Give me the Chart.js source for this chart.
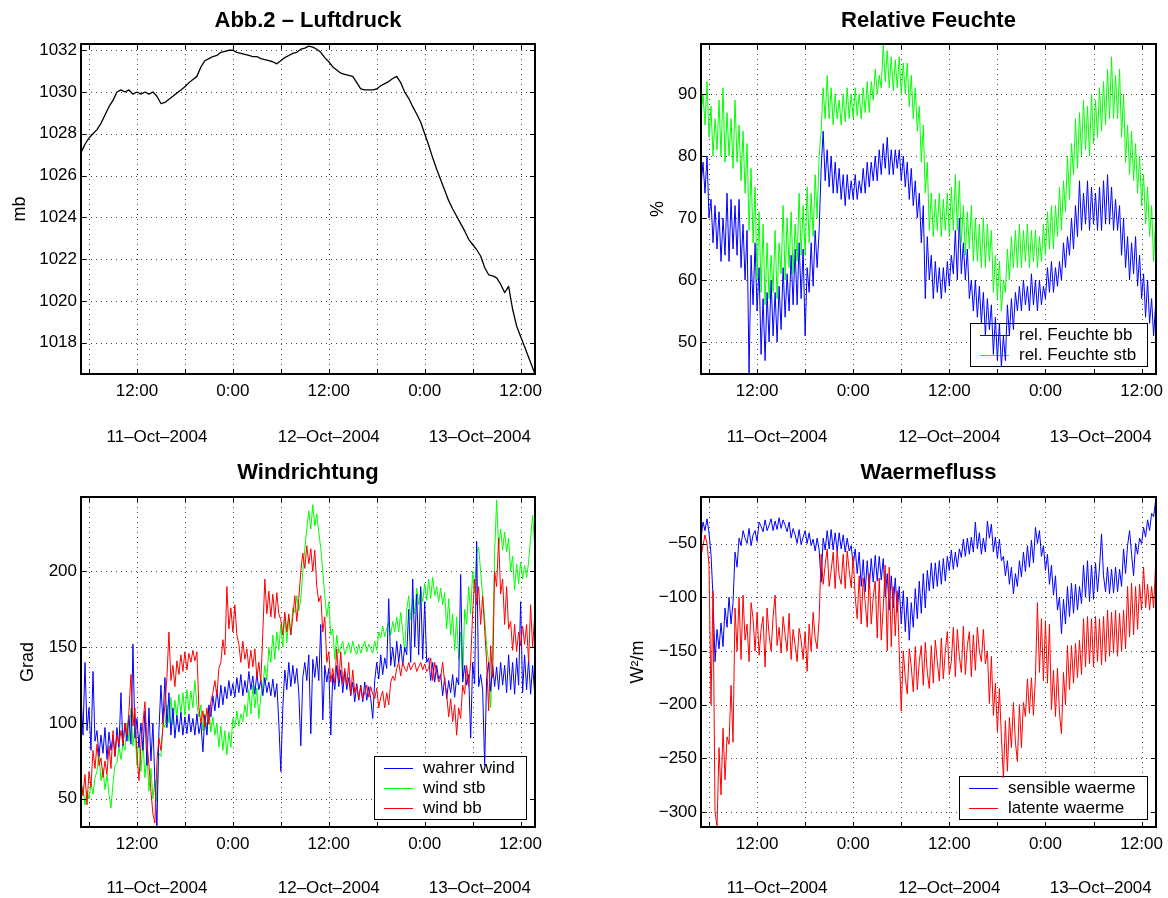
<!DOCTYPE html>
<html>
<head>
<meta charset="utf-8">
<title>Abb.2</title>
<script src="https://cdn.jsdelivr.net/npm/chart.js@4.4.1/dist/chart.umd.min.js"></script>
<style>
  html, body { margin: 0; padding: 0; background: #fff; }
  #fig { position: relative; width: 1168px; height: 898px; }
  #fig canvas { position: absolute; }
</style>
</head>
<body>
<div id="fig">
  <canvas id="cDruck" width="584" height="449" style="left:0;top:0"></canvas>
  <canvas id="cFeuchte" width="584" height="449" style="left:584px;top:0"></canvas>
  <canvas id="cWind" width="584" height="449" style="left:0;top:449px"></canvas>
  <canvas id="cWaerme" width="584" height="449" style="left:584px;top:449px"></canvas>
</div>
<script>
// Zeitachse in Stunden ab 11-Oct-2004 0:00
const T_START = 5;
const T_END = 61.8;
const DRUCK_STEP = 0.5;   // Luftdruck halbstuendlich
const MESS_STEP = 0.25;   // uebrige Messreihen viertelstuendlich

const X_TICKS = [6, 12, 18, 24, 30, 36, 42, 48, 54, 60];
const DAYS = ['11–Oct–2004', '12–Oct–2004', '13–Oct–2004'];

const DRUCK_TICKS = [1018, 1020, 1022, 1024, 1026, 1028, 1030, 1032];
const FEUCHTE_TICKS = [50, 60, 70, 80, 90];
const WIND_TICKS = [50, 100, 150, 200];
const WAERME_TICKS = [-300, -250, -200, -150, -100, -50];

// Luftdruck [mb], 5:00 bis 62:00
const LUFTDRUCK = [
  1027.1, 1027.5, 1027.8, 1028.0, 1028.2, 1028.5, 1028.9, 1029.3, 1029.6, 1030.0,
  1030.1, 1030.0, 1030.1, 1029.9, 1030.0, 1029.9, 1030.0, 1029.9, 1030.0, 1029.8,
  1029.45, 1029.5, 1029.65, 1029.8, 1029.95, 1030.1, 1030.25, 1030.45, 1030.6, 1030.75,
  1031.2, 1031.5, 1031.6, 1031.7, 1031.75, 1031.9, 1031.95, 1032.0, 1032.0, 1031.9,
  1031.85, 1031.8, 1031.75, 1031.7, 1031.7, 1031.6, 1031.55, 1031.5, 1031.45, 1031.35,
  1031.5, 1031.65, 1031.75, 1031.85, 1031.9, 1032.05, 1032.1, 1032.2, 1032.15, 1032.05,
  1031.9, 1031.65, 1031.45, 1031.2, 1031.05, 1030.9, 1030.85, 1030.8, 1030.75, 1030.45,
  1030.15, 1030.1, 1030.1, 1030.1, 1030.15, 1030.3, 1030.4, 1030.5, 1030.65, 1030.75,
  1030.45, 1030.0, 1029.7, 1029.3, 1028.95, 1028.55, 1028.0, 1027.45, 1026.85, 1026.3,
  1025.8, 1025.3, 1024.8, 1024.4, 1024.05, 1023.7, 1023.35, 1022.95, 1022.7, 1022.45,
  1022.15, 1021.6, 1021.25, 1021.2, 1021.1, 1020.8, 1020.4, 1020.7, 1019.6, 1018.8,
  1018.3, 1017.8, 1017.3, 1016.8, 1016.3
];

// relative Feuchte [%], eine Zeile = 5 Stunden
const FEUCHTE_BB = [
  75, 79, 74, 80, 70, 73, 66, 72, 65, 71, 63, 70, 64, 74, 63, 73, 65, 72, 64, 73,
  62, 69, 60, 68, 45, 64, 56, 66, 55, 62, 48, 57, 47, 58, 50, 60, 51, 58, 50, 59,
  52, 62, 54, 61, 55, 64, 56, 65, 56, 66, 57, 65, 51, 62, 58, 66, 59, 68, 62, 68,
  78, 84, 76, 81, 75, 80, 74, 79, 74, 78, 73, 77, 72, 77, 73, 76, 73, 77, 73, 76,
  74, 78, 74, 79, 75, 79, 76, 80, 76, 81, 77, 82, 78, 83, 77, 81, 77, 81, 78, 81,
  76, 80, 75, 79, 73, 78, 72, 76, 70, 74, 66, 72, 57, 67, 60, 64, 57, 63, 58, 62,
  57, 62, 58, 63, 59, 64, 61, 68, 60, 70, 61, 66, 60, 65, 57, 60, 55, 60, 54, 59,
  53, 58, 51, 57, 52, 56, 48, 54, 47, 53, 46, 51, 47, 56, 51, 57, 52, 58, 55, 59,
  55, 60, 56, 59, 55, 61, 56, 60, 55, 60, 56, 59, 57, 62, 58, 63, 58, 62, 59, 63,
  60, 66, 62, 67, 64, 70, 65, 72, 67, 76, 68, 74, 69, 76, 68, 75, 69, 74, 68, 75,
  68, 76, 69, 77, 69, 75, 68, 73, 68, 72, 64, 70, 62, 67, 60, 66, 61, 67, 59, 64,
  57, 61, 54, 60, 53, 57, 51, 56, 51
];
const FEUCHTE_STB = [
  86, 90, 85, 92, 83, 88, 80, 86, 81, 89, 80, 91, 79, 87, 80, 86, 78, 89, 79, 85,
  76, 84, 74, 82, 68, 78, 66, 75, 60, 71, 58, 69, 56, 66, 57, 64, 58, 68, 57, 66,
  61, 72, 60, 70, 62, 71, 61, 69, 63, 74, 64, 72, 64, 75, 66, 74, 67, 77, 70, 80,
  84, 91, 86, 93, 86, 91, 85, 90, 86, 89, 85, 90, 85.5, 91, 86, 90, 86, 91, 86.5, 90,
  86, 91, 87, 92, 87, 92, 89, 94, 90, 93, 91, 98, 92, 97, 91, 96, 90.5, 95.5, 91, 96,
  90, 95, 90, 95, 88, 93, 86, 91, 84, 88, 79, 85, 74, 79, 68, 74, 67, 73, 68, 74,
  67, 73, 68, 74, 67, 75, 68, 77, 68, 76, 66, 72, 64, 71, 65, 72, 63, 70, 63, 69,
  62, 70, 62, 69, 63, 68, 58, 64, 57, 63, 55, 60, 58, 65, 60, 67, 62, 68, 62, 69,
  62, 68, 63, 69, 62, 68, 63, 68, 62, 67, 63, 69, 64, 71, 65, 72, 65, 72, 67, 75,
  68, 76, 71, 80, 73, 82, 77, 86, 78, 87, 80, 89, 81, 88, 80, 90, 82, 89, 83, 91,
  84, 92, 85, 94, 86, 96, 86, 93, 86, 94, 83, 90, 79, 85, 77, 84, 76, 82, 74, 80,
  72, 77, 69, 75, 67, 72, 63, 70, 64
];

// Windrichtung [Grad]
const WIND_WAHR = [
  118, 92, 140, 95, 110, 82, 134, 88, 95, 78, 92, 80, 97, 76, 94, 82, 92, 78, 97, 84,
  120, 85, 100, 88, 105, 86, 152, 90, 103, 84, 100, 82, 108, 72, 110, 75, 100, 60, 31, 95,
  125, 100, 130, 97, 120, 92, 110, 90, 105, 94, 107, 92, 104, 93, 106, 94, 103, 92, 106, 93,
  100, 81, 105, 92, 112, 104, 118, 108, 122, 110, 125, 112, 124, 116, 128, 118, 126, 117, 130, 120,
  132, 118, 128, 120, 134, 122, 131, 119, 133, 122, 128, 118, 130, 120, 127, 118, 129, 117, 126, 100,
  68, 110, 135, 122, 140, 124, 138, 126, 136, 120, 85, 130, 140, 128, 145, 93, 142, 130, 144, 128,
  165, 102, 138, 127, 136, 92, 132, 122, 138, 124, 135, 120, 134, 122, 130, 118, 127, 114, 126, 115,
  125, 114, 127, 115, 124, 116, 103, 128, 140, 129, 145, 132, 143, 136, 182, 138, 150, 137, 154, 140,
  152, 138, 150, 145, 175, 140, 195, 150, 185, 145, 190, 142, 180, 140, 143, 128, 140, 127, 138, 129,
  132, 118, 130, 116, 128, 120, 132, 117, 130, 125, 198, 127, 138, 125, 132, 90, 140, 126, 220, 124,
  132, 122, 72, 130, 140, 121, 138, 124, 137, 122, 140, 125, 138, 120, 145, 122, 140, 119, 143, 125,
  180, 120, 145, 122, 142, 119, 138, 120, 135
];
const WIND_STB = [
  50, 58, 46, 55, 50, 60, 53, 64, 68, 80, 62, 70, 56, 66, 53, 44, 60, 72, 74, 84,
  76, 86, 82, 100, 88, 110, 85, 97, 72, 92, 68, 88, 64, 80, 55, 70, 50, 62, 48, 80,
  78, 100, 97, 112, 100, 117, 99, 115, 104, 119, 106, 120, 105, 122, 108, 121, 110, 128, 112, 104,
  112, 95, 106, 93, 110, 94, 104, 92, 100, 84, 98, 82, 95, 79, 94, 84, 103, 97, 108, 98,
  106, 101, 112, 104, 122, 106, 125, 110, 123, 103, 118, 125, 138, 128, 150, 140, 158, 142, 160, 148,
  165, 150, 172, 153, 170, 158, 176, 173, 184, 174, 182, 200, 215, 228, 240, 228, 244, 230, 238, 226,
  215, 200, 184, 170, 180, 158, 162, 142, 158, 146, 150, 154, 145, 149, 153, 146, 154, 148, 145, 152,
  146, 150, 154, 147, 152, 149, 146, 154, 148, 160, 156, 164, 157, 162, 166, 158, 167, 160, 170, 160,
  173, 161, 147, 175, 184, 168, 182, 172, 189, 178, 188, 180, 192, 181, 195, 182, 196, 184, 190, 180,
  189, 178, 186, 162, 182, 158, 172, 148, 170, 142, 160, 127, 175, 165, 190, 172, 200, 186, 212, 216,
  200, 184, 170, 151, 140, 110, 150, 212, 247, 215, 228, 214, 226, 213, 222, 200, 210, 188, 205, 192,
  206, 195, 204, 196, 206, 222, 237, 218, 225
];
const WIND_BB = [
  62, 52, 66, 46, 68, 58, 82, 70, 86, 72, 77, 64, 75, 66, 85, 70, 95, 78, 92, 86,
  95, 86, 100, 92, 108, 132, 98, 110, 80, 62, 86, 100, 114, 88, 72, 55, 40, 34, 75, 90,
  82, 97, 112, 130, 160, 128, 138, 124, 141, 132, 145, 134, 147, 135, 146, 140, 148, 141, 147, 110,
  100, 108, 97, 110, 99, 114, 120, 128, 118, 136, 140, 155, 145, 190, 162, 176, 160, 178, 158, 152,
  140, 154, 142, 149, 136, 148, 137, 149, 130, 140, 127, 160, 195, 172, 187, 170, 185, 169, 186, 172,
  168, 158, 173, 160, 172, 158, 170, 184, 167, 182, 200, 212, 202, 217, 205, 215, 200, 214, 190, 180,
  184, 160, 170, 140, 147, 127, 136, 126, 149, 128, 147, 126, 136, 125, 140, 119, 135, 120, 125, 116,
  124, 116, 120, 125, 117, 124, 119, 116, 123, 110, 117, 121, 110, 120, 112, 127, 131, 128, 136, 140,
  131, 140, 136, 134, 140, 135, 138, 140, 134, 137, 140, 135, 139, 134, 136, 143, 128, 140, 133, 127,
  130, 140, 127, 119, 104, 116, 101, 112, 92, 110, 103, 125, 119, 138, 124, 140, 173, 195, 178, 190,
  165, 184, 162, 140, 108, 151, 130, 200, 190, 222, 185, 195, 165, 190, 162, 167, 148, 165, 147, 160,
  151, 164, 152, 165, 140, 178, 150, 170, 162
];

// Waermefluss [W²/m]
const WAERME_SENS = [
  -45, -30, -38, -27, -40, -60, -100, -160, -130, -148, -124, -146, -110, -128, -100, -125, -105, -58, -72, -45,
  -52, -38, -45, -50, -36, -52, -42, -38, -48, -30, -34, -39, -28, -38, -33, -27, -38, -29, -37, -26,
  -36, -28, -33, -39, -30, -45, -36, -42, -50, -37, -51, -44, -38, -50, -40, -52, -46, -57, -45, -56,
  -86, -45, -56, -38, -55, -37, -56, -40, -57, -40, -55, -42, -58, -45, -57, -52, -70, -55, -78, -58,
  -90, -65, -95, -66, -92, -64, -86, -61, -85, -62, -84, -64, -100, -78, -112, -80, -110, -82, -114, -90,
  -125, -94, -132, -100, -140, -105, -128, -92, -120, -85, -115, -78, -110, -75, -94, -68, -92, -68, -90, -66,
  -88, -64, -85, -62, -75, -56, -74, -58, -72, -55, -63, -46, -62, -45, -60, -44, -58, -30, -55, -40,
  -60, -45, -58, -29, -45, -32, -58, -44, -64, -46, -66, -62, -80, -66, -88, -72, -97, -78, -90, -66,
  -81, -58, -76, -52, -72, -47, -68, -35, -50, -38, -62, -52, -75, -60, -88, -70, -98, -80, -112, -100,
  -134, -102, -125, -90, -118, -87, -115, -88, -112, -90, -106, -70, -100, -66, -104, -70, -102, -68, -95, -72,
  -41, -80, -95, -72, -97, -74, -96, -72, -95, -74, -90, -55, -78, -52, -38, -60, -80, -50, -60, -45,
  -50, -35, -44, -28, -38, -22, -25, -10, -8
];
const WAERME_LAT = [
  -62, -52, -42, -50, -70, -200, -94, -300, -313, -240, -284, -222, -270, -230, -237, -182, -235, -110, -150, -100,
  -158, -98, -140, -125, -160, -105, -120, -150, -114, -154, -130, -118, -165, -110, -135, -150, -118, -98, -145, -128,
  -152, -118, -135, -150, -115, -158, -130, -145, -160, -129, -140, -158, -132, -169, -125, -150, -114, -138, -148, -120,
  -60, -88, -70, -55, -90, -75, -58, -92, -56, -80, -88, -60, -92, -57, -75, -91, -62, -100, -120, -80,
  -125, -82, -105, -128, -78, -125, -100, -85, -138, -82, -140, -110, -70, -150, -72, -146, -90, -136, -94, -150,
  -206, -150, -175, -190, -148, -165, -188, -146, -186, -160, -145, -182, -142, -170, -185, -145, -180, -140, -160, -178,
  -138, -176, -150, -132, -172, -160, -128, -174, -130, -155, -170, -127, -172, -145, -132, -174, -135, -168, -128, -150,
  -160, -130, -162, -150, -199, -155, -210, -180, -225, -185, -230, -268, -215, -262, -212, -240, -198, -235, -253, -200,
  -240, -198, -211, -176, -208, -175, -210, -174, -105, -170, -120, -178, -122, -180, -125, -205, -168, -211, -166, -208,
  -227, -170, -200, -145, -186, -145, -180, -143, -175, -140, -172, -120, -165, -118, -162, -120, -165, -118, -160, -120,
  -163, -118, -160, -112, -155, -114, -152, -112, -155, -115, -150, -112, -148, -90, -137, -87, -135, -90, -130, -88,
  -112, -72, -110, -88, -112, -90, -110, -70, -100
];

const FONT = '"Liberation Sans", Arial, Helvetica, sans-serif';
Chart.defaults.font.family = FONT;
Chart.defaults.color = '#000';

function pts(values, step) {
  return values.map((v, i) => ({ x: T_START + i * step, y: v }));
}

function hourLabel(v) {
  const h = v % 24;
  if (h === 12) return '12:00';
  if (h === 0) return '0:00';
  return '';
}

function numLabel(v) {
  return v < 0 ? '\u2212' + Math.abs(v) : String(v);
}

function drawLegend(chart) {
  const { ctx, chartArea: a } = chart;
  const items = chart.data.datasets;
  ctx.font = '17px ' + FONT;
  const textW = Math.max(...items.map(d => ctx.measureText(d.label).width));
  const w = Math.round(10 + 29 + 10 + textW + 11);
  const h = items.length * 20 + 3;
  const right = a.right - 9;
  const bottom = a.bottom - 8;
  const left = right - w;
  const top = bottom - h;
  ctx.fillStyle = '#fff';
  ctx.fillRect(left, top, w, h);
  ctx.strokeStyle = '#000';
  ctx.lineWidth = 1;
  ctx.strokeRect(left + 0.5, top + 0.5, w, h);
  ctx.textAlign = 'left';
  ctx.textBaseline = 'middle';
  items.forEach((d, i) => {
    const cy = top + 12 + i * 20;
    ctx.strokeStyle = d.borderColor;
    ctx.beginPath();
    ctx.moveTo(left + 10, cy + 0.5);
    ctx.lineTo(left + 39, cy + 0.5);
    ctx.stroke();
    ctx.fillStyle = '#000';
    ctx.fillText(d.label, left + 49, cy);
  });
}

// Achsen im Matlab-Stil: gepunktetes Gitter, Rahmen, Ticks nach innen
const matlabAchsen = {
  id: 'matlabAchsen',
  beforeDatasetsDraw(chart, args, opts) {
    const { ctx, chartArea: a, scales: { x, y } } = chart;
    ctx.save();
    ctx.strokeStyle = '#444';
    ctx.lineWidth = 1;
    ctx.setLineDash([1, 4]);
    ctx.beginPath();
    x.ticks.forEach(t => {
      const px = Math.round(x.getPixelForValue(t.value)) + 0.5;
      ctx.moveTo(px, a.top);
      ctx.lineTo(px, a.bottom);
    });
    y.ticks.forEach(t => {
      const py = Math.round(y.getPixelForValue(t.value)) + 0.5;
      ctx.moveTo(a.left, py);
      ctx.lineTo(a.right, py);
    });
    ctx.stroke();
    ctx.setLineDash([]);
    if (opts.legend) drawLegend(chart);
    ctx.restore();
  },
  afterDatasetsDraw(chart) {
    const { ctx, chartArea: a, scales: { x, y } } = chart;
    ctx.save();
    ctx.strokeStyle = '#000';
    ctx.lineWidth = 1;
    ctx.beginPath();
    x.ticks.forEach(t => {
      const px = Math.round(x.getPixelForValue(t.value)) + 0.5;
      ctx.moveTo(px, a.bottom);
      ctx.lineTo(px, a.bottom - 5);
      ctx.moveTo(px, a.top);
      ctx.lineTo(px, a.top + 5);
    });
    y.ticks.forEach(t => {
      const py = Math.round(y.getPixelForValue(t.value)) + 0.5;
      ctx.moveTo(a.left, py);
      ctx.lineTo(a.left + 5, py);
      ctx.moveTo(a.right, py);
      ctx.lineTo(a.right - 5, py);
    });
    ctx.stroke();
    ctx.lineWidth = 2;
    ctx.strokeRect(a.left, a.top, a.right - a.left, a.bottom - a.top);
    ctx.restore();
  },
  afterDraw(chart, args, opts) {
    const { ctx, chartArea: a, scales: { x } } = chart;
    ctx.save();
    ctx.fillStyle = '#000';
    ctx.textAlign = 'center';
    ctx.textBaseline = 'middle';
    ctx.font = 'bold 22px ' + FONT;
    ctx.fillText(opts.title, (a.left + a.right) / 2, opts.titleY);

    // Datum unter der Mitte des sichtbaren Tagesabschnitts
    ctx.font = '17px ' + FONT;
    DAYS.forEach((label, d) => {
      const from = Math.max(d * 24, T_START);
      const to = Math.min(d * 24 + 24, T_END);
      ctx.fillText(label, x.getPixelForValue((from + to) / 2), opts.dateY);
    });

    ctx.font = '18px ' + FONT;
    ctx.translate(opts.yLabelX, (a.top + a.bottom) / 2);
    ctx.rotate(-Math.PI / 2);
    ctx.fillText(opts.yLabel, 0, 0);
    ctx.restore();
  }
};

function line(label, values, step, color, order, width) {
  return {
    label, data: pts(values, step), borderColor: color, borderWidth: width || 1,
    pointRadius: 0, tension: 0, borderJoinStyle: 'round', order
  };
}

function makePlot(id, p) {
  const canvas = document.getElementById(id);
  const W = canvas.width, H = canvas.height;
  return new Chart(canvas, {
    type: 'line',
    data: { datasets: p.datasets },
    plugins: [matlabAchsen],
    options: {
      responsive: false,
      devicePixelRatio: 1,
      animation: false,
      events: [],
      layout: { padding: { top: p.area.top, right: W - p.area.right, left: 0, bottom: 0 } },
      plugins: {
        legend: { display: false },
        tooltip: { enabled: false },
        matlabAchsen: {
          title: p.title, titleY: p.titleY, yLabel: p.yLabel,
          yLabelX: p.yLabelX, dateY: p.dateY, legend: p.legend
        }
      },
      scales: {
        x: {
          type: 'linear', min: T_START, max: T_END,
          afterBuildTicks: s => { s.ticks = X_TICKS.map(v => ({ value: v })); },
          afterFit: s => { s.height = H - p.area.bottom; s.paddingLeft = 0; s.paddingRight = 0; },
          grid: { display: false, drawTicks: false },
          border: { display: false },
          ticks: {
            padding: 7, maxRotation: 0, autoSkip: false, color: '#000',
            font: { size: 17 }, callback: v => hourLabel(v)
          }
        },
        y: {
          type: 'linear', min: p.yMin, max: p.yMax,
          afterBuildTicks: s => { s.ticks = p.yTicks.map(v => ({ value: v })); },
          afterFit: s => { s.width = p.area.left; s.paddingTop = 0; s.paddingBottom = 0; },
          grid: { display: false, drawTicks: false },
          border: { display: false },
          ticks: { padding: 4, color: '#000', font: { size: 17 }, callback: v => numLabel(v) }
        }
      }
    }
  });
}

makePlot('cDruck', {
  title: 'Abb.2 – Luftdruck', titleY: 21, yLabel: 'mb', yLabelX: 20, dateY: 437,
  area: { left: 81, right: 535, top: 44, bottom: 374 },
  yMin: 1016.5, yMax: 1032.3, yTicks: DRUCK_TICKS, legend: false,
  datasets: [line('Luftdruck', LUFTDRUCK, DRUCK_STEP, '#000000', 1, 1.3)]
});

makePlot('cFeuchte', {
  title: 'Relative Feuchte', titleY: 21, yLabel: '%', yLabelX: 74, dateY: 437,
  area: { left: 117, right: 572, top: 44, bottom: 374 },
  yMin: 44.84, yMax: 98.06, yTicks: FEUCHTE_TICKS, legend: true,
  datasets: [
    line('rel. Feuchte bb', FEUCHTE_BB, MESS_STEP, '#0000ff', 2),
    line('rel. Feuchte stb', FEUCHTE_STB, MESS_STEP, '#00ff00', 1)
  ]
});

makePlot('cWind', {
  title: 'Windrichtung', titleY: 23.5, yLabel: 'Grad', yLabelX: 28, dateY: 439,
  area: { left: 81, right: 535, top: 48, bottom: 378 },
  yMin: 31.4, yMax: 249.1, yTicks: WIND_TICKS, legend: true,
  datasets: [
    line('wahrer wind', WIND_WAHR, MESS_STEP, '#0000ff', 2),
    line('wind stb', WIND_STB, MESS_STEP, '#00ff00', 3),
    line('wind bb', WIND_BB, MESS_STEP, '#ff0000', 1)
  ]
});

makePlot('cWaerme', {
  title: 'Waermefluss', titleY: 23.5, yLabel: 'W²/m', yLabelX: 54, dateY: 439,
  area: { left: 117, right: 572, top: 48, bottom: 378 },
  yMin: -313.9, yMax: -6.7, yTicks: WAERME_TICKS, legend: true,
  datasets: [
    line('sensible waerme', WAERME_SENS, MESS_STEP, '#0000ff', 2),
    line('latente waerme', WAERME_LAT, MESS_STEP, '#ff0000', 1)
  ]
});
</script>
</body>
</html>
